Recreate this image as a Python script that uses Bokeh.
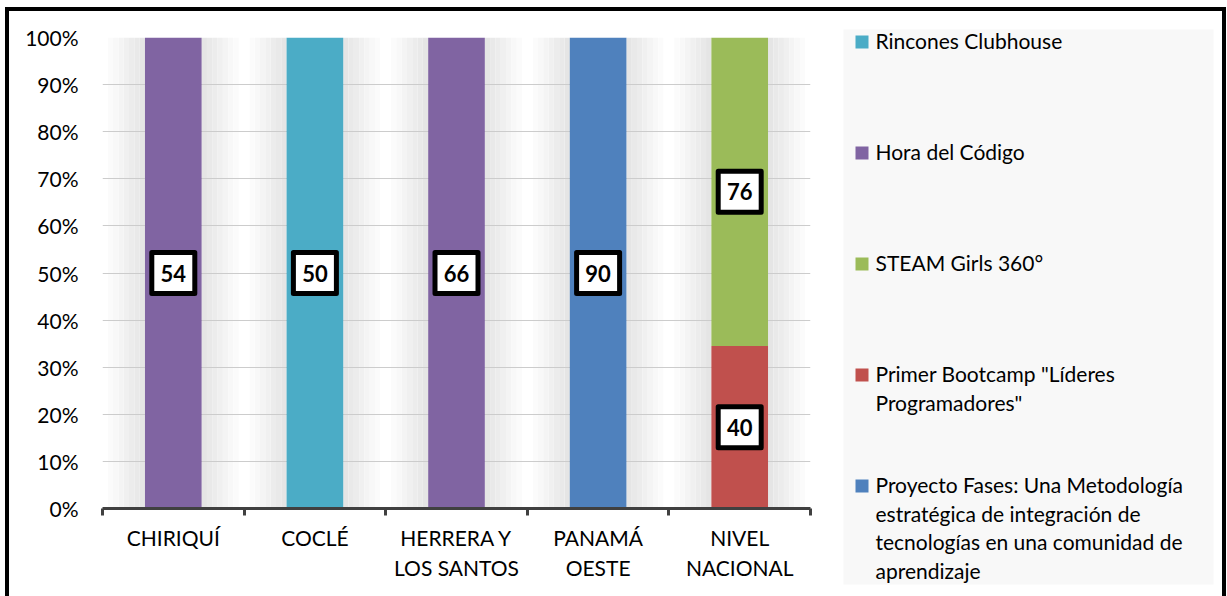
from bokeh.plotting import figure
from bokeh.models import (Range1d, LinearAxis, FixedTicker, NumeralTickFormatter, ColumnDataSource)
from bokeh.layouts import row
from bokeh.embed import file_html
from bokeh.resources import INLINE
from bokeh.core.properties import value

# ---------------- data ----------------
categories = ["CHIRIQUÍ", "COCLÉ", "HERRERA Y\nLOS SANTOS", "PANAMÁ\nOESTE", "NIVEL\nNACIONAL"]

series_names = [
    "Proyecto Fases: Una Metodología\nestratégica de integración de\ntecnologías en una comunidad de\naprendizaje",
    "Primer Bootcamp \"Líderes\nProgramadores\"",
    "STEAM Girls 360°",
    "Hora del Código",
    "Rincones Clubhouse",
]
series_colors = ["#4F81BD", "#C0504D", "#9BBB59", "#8064A2", "#4BACC6"]

proyecto_fases = [0, 0, 0, 90, 0]
primer_bootcamp = [0, 0, 0, 0, 40]
steam_girls = [0, 0, 0, 0, 76]
hora_codigo = [54, 0, 66, 0, 0]
rincones = [0, 50, 0, 0, 0]

y_ticks = [0, 0.1, 0.2, 0.3, 0.4, 0.5, 0.6, 0.7, 0.8, 0.9, 1.0]

FONT = "Lato"
BAR_W = 0.4

# ---------------- derived ----------------
n = len(categories)
xc = [i + 0.5 for i in range(n)]          # category centres on a 0..n axis
edges = [float(i) for i in range(n + 1)]  # category boundaries
all_series = [proyecto_fases, primer_bootcamp, steam_girls, hora_codigo, rincones]
keys = ["s0", "s1", "s2", "s3", "s4"]
totals = [sum(s[i] for s in all_series) for i in range(n)]
data = {"x": xc}
for k, s in zip(keys, all_series):
    data[k] = [v / t for v, t in zip(s, totals)]
src = ColumnDataSource(data)

lab_x, lab_y, lab_t = [], [], []
for i in range(n):
    cum = 0.0
    for s in all_series:
        frac = s[i] / totals[i]
        if s[i] > 0:
            lab_x.append(xc[i])
            lab_y.append(cum + frac / 2)
            lab_t.append(str(s[i]))
        cum += frac
lab_src = ColumnDataSource(dict(x=lab_x, y=lab_y, t=lab_t))

# plot-area shading (grey near each bar, fading to white between categories)
STEPS = 8
bl, br, bc = [], [], []
gap = 0.5 - BAR_W / 2
for c in xc:
    for k in range(STEPS):
        g = int(round(229 + (255 - 229) * k / (STEPS - 1)))
        col = "#%02x%02x%02x" % (g, g, g)
        d0, d1 = gap * k / STEPS, gap * (k + 1) / STEPS
        # left side
        bl.append(c - BAR_W / 2 - d1); br.append(c - BAR_W / 2 - d0); bc.append(col)
        # right side
        bl.append(c + BAR_W / 2 + d0); br.append(c + BAR_W / 2 + d1); bc.append(col)
bg_src = ColumnDataSource(dict(left=bl, right=br, color=bc))

# ---------------- main chart ----------------
p = figure(x_range=Range1d(0, n), y_range=Range1d(0, 1),
           width=821, height=585, output_backend="svg", toolbar_location=None,
           x_axis_location=None,
           min_border_left=93, min_border_right=20, min_border_top=26, min_border_bottom=88)
p.frame_align = False
p.outline_line_color = None
p.background_fill_color = "#ffffff"
p.border_fill_color = "#ffffff"
p.xgrid.visible = False
p.ygrid.grid_line_color = "#cccccc"
p.ygrid.grid_line_width = 1
p.ygrid.ticker = FixedTicker(ticks=y_ticks)

p.quad(left="left", right="right", bottom=0, top=1, fill_color="color", line_color=None,
       source=bg_src, level="image")

p.vbar_stack(keys, x="x", width=BAR_W, color=series_colors, line_color=None, source=src)

p.rect(x="x", y="y", width=43, height=41, width_units="screen", height_units="screen",
       fill_color="white", line_color="black", line_width=5, line_join="round", source=lab_src)
p.text(x="x", y="y", text="t", text_align="center", text_baseline="middle",
       text_font=value(FONT), text_font_style="bold", text_font_size="22px",
       text_color="black", source=lab_src)

yax = p.yaxis[0]
yax.ticker = FixedTicker(ticks=y_ticks)
yax.formatter = NumeralTickFormatter(format="0%")
yax.axis_line_color = None
yax.major_tick_line_color = None
yax.minor_tick_line_color = None
yax.major_label_standoff = 18
yax.major_label_text_font = FONT
yax.major_label_text_font_size = "21px"
yax.major_label_text_color = "#000000"

xax = LinearAxis(ticker=FixedTicker(ticks=xc, minor_ticks=edges),
                 major_label_overrides={x: c for x, c in zip(xc, categories)},
                 axis_line_color="#404040", axis_line_width=3,
                 major_tick_line_color=None,
                 minor_tick_line_color="#404040", minor_tick_line_width=3,
                 minor_tick_in=0, minor_tick_out=7,
                 major_label_standoff=9,
                 major_label_text_font=FONT, major_label_text_font_size="21px",
                 major_label_text_color="#000000")
p.add_layout(xax, "below")

# ---------------- legend panel ----------------
q = figure(width=392, height=585, x_range=Range1d(830, 1222), y_range=Range1d(596, 11),
           output_backend="svg", toolbar_location=None, min_border=0,
           x_axis_location=None, y_axis_location=None)
q.frame_align = False
q.outline_line_color = None
q.grid.visible = False
q.background_fill_color = "#ffffff"
q.border_fill_color = "#ffffff"
q.quad(left=[843], right=[1213], top=[29], bottom=[584], fill_color="#f8f8f8", line_color=None)

order = list(range(len(series_names)))[::-1]
leg_y = [41.5 + 111.0 * j for j in range(len(order))]
leg_src = ColumnDataSource(dict(
    y=leg_y,
    ty=[y - 14 for y in leg_y],
    name=[series_names[i] for i in order],
    color=[series_colors[i] for i in order],
))
q.rect(x=861.5, y="y", width=13, height=13, fill_color="color", line_color=None, source=leg_src)
q.text(x=875, y="ty", text="name", text_align="left", text_baseline="top",
       text_font=value(FONT), text_font_size="21px", text_line_height=1.14,
       text_color="#000000", source=leg_src)

layout = row(p, q, styles={"margin-left": "5px", "margin-top": "7px",
                           "border": "4px solid black", "border-bottom": "none"})

open("out.html", "w").write(file_html(layout, INLINE))
